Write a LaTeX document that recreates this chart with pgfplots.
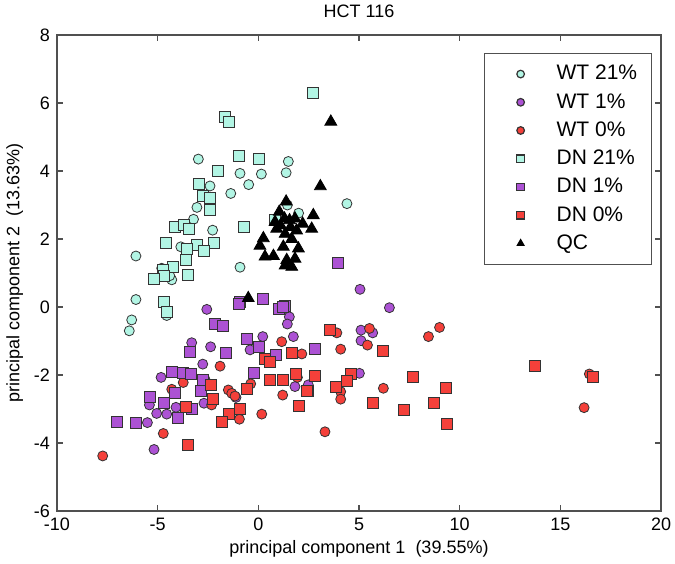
\documentclass[border=0pt]{standalone}
\usepackage{fontspec}
\setmainfont{Liberation Sans}
\usepackage{pgfplots}
\pgfplotsset{compat=1.18}
\usetikzlibrary{calc}
\definecolor{mint}{RGB}{178,245,228}
\definecolor{violet}{RGB}{172,82,212}
\definecolor{tomato}{RGB}{244,64,58}
\definecolor{frame}{RGB}{80,80,80}

\begin{document}
\begin{tikzpicture}
\begin{axis}[
  scale only axis,
  width=302pt, height=238pt,
  xmin=-10, xmax=20, ymin=-6, ymax=8,
  xtick={-10,-5,...,20}, ytick={-6,-4,...,8},
  tick align=inside,
  major tick length=3pt,
  axis line style={draw=frame, line width=0.9pt},
  every tick/.style={draw=frame, line width=0.6pt},
  tick label style={font=\fontsize{9}{10}\selectfont},
  /pgf/number format/assume math mode=true,
  title={HCT 116},
  title style={font=\fontsize{9}{10}\selectfont, yshift=-1pt},
  xlabel={principal component 1~~(39.55\%)},
  ylabel={principal component 2~~(13.63\%)},
  label style={font=\fontsize{9}{10}\selectfont},
  xlabel style={yshift=2pt},
  ylabel style={yshift=-1.5pt},
  legend cell align=left,
  legend style={at={(0.707,0.963)}, anchor=north west,
    draw=frame, line width=0.6pt,
    font=\fontsize{10.5}{12}\selectfont,
    row sep=2.3pt, inner xsep=5.5pt, inner ysep=4.5pt,
    nodes={inner sep=1.5pt}},
  legend image code/.code={
    \path[draw=none, fill=none] (0pt,0pt) (29pt,0pt);
    \path[mark repeat=2, mark phase=2, #1, mark size=1.9pt, draw=none]
      plot coordinates {(0pt,0pt) (12.5pt,0pt) (25pt,0pt)};},
  every axis plot/.append style={only marks, mark options={line width=0.5pt}},
]
% WT 21%
\addplot[mark=*, mark size=2.5pt, mark options={fill=mint, draw=black!80}] coordinates {
(-2.98,4.35) (1.49,4.28) (1.38,3.95) (-0.91,3.93) (0.15,3.91) (-2.40,3.56)
(-0.48,3.60) (-1.37,3.34) (-3.05,2.93) (-3.22,2.58) (-2.27,2.26) (-6.08,1.50)
(-3.85,1.77) (-0.91,1.17) (2.00,2.76) (4.40,3.04) (1.44,3.00) (-6.08,0.22)
(-6.29,-0.38) (-6.41,-0.70) (-4.30,0.80) (-4.80,1.14) (-4.55,-0.25) (-4.40,0.92)
};
\addlegendentry{WT 21\%}
% WT 1%
\addplot[mark=*, mark size=2.5pt, mark options={fill=violet, draw=black!80}] coordinates {
(-2.56,-0.07) (1.54,-0.29) (1.44,-0.50) (1.74,-0.87) (0.22,-0.87) (-0.41,-1.26)
(-3.31,-1.05) (-2.37,-1.17) (-2.76,-1.68) (-4.83,-2.07) (-2.65,-2.13) (-2.80,-2.45)
(-5.41,-2.88) (-5.05,-3.13) (-4.55,-3.15) (-4.09,-2.95) (-2.70,-2.83) (-5.51,-3.40)
(-5.18,-4.19) (-1.11,-2.66) (1.82,-2.34) (2.48,-2.29) (5.05,0.52) (6.51,-0.02)
(5.10,-0.68) (5.68,-0.76) (5.10,-0.99) (5.02,-1.95)
};
\addlegendentry{WT 1\%}
% WT 0%
\addplot[mark=*, mark size=2.5pt, mark options={fill=tomato, draw=black!80}] coordinates {
(3.90,-0.76) (5.52,-0.63) (5.42,-1.12) (4.09,-1.24) (2.16,-1.38) (1.16,-1.02)
(8.45,-0.87) (9.00,-0.60) (1.94,-2.07) (1.21,-2.59) (4.09,-2.49) (4.09,-2.71)
(6.21,-2.39) (3.31,-3.67) (16.44,-1.97) (16.18,-2.96) (-1.90,-1.74) (-3.73,-2.22)
(-1.49,-2.44) (-1.32,-2.54) (-1.16,-2.62) (-2.32,-2.88) (-4.30,-2.42) (-0.94,-3.30)
(0.17,-3.15) (-4.72,-3.72) (-7.73,-4.38) (-0.38,-2.26)
};
\addlegendentry{WT 0\%}
% DN 21%
\addplot[mark=square*, mark size=2.75pt, mark options={fill=mint, draw=black!80}] coordinates {
(-1.65,5.58) (-1.46,5.45) (2.73,6.31) (-0.96,4.45) (0.05,4.36) (-2.02,4.00)
(-2.96,3.62) (-2.76,3.26) (-2.43,3.20) (-2.43,2.85) (-4.14,2.36) (-3.69,2.41)
(-3.44,2.31) (-0.70,2.36) (0.83,2.56) (-4.57,1.89) (-3.06,1.82) (-2.20,1.88)
(-2.70,1.66) (-3.53,1.70) (-3.62,1.39) (-4.24,1.17) (-4.73,1.10) (-4.67,0.91)
(-3.48,0.93) (-5.20,0.82) (-4.68,0.16) (-4.55,-0.14)
};
\addlegendentry{DN 21\%}
% DN 1%
\addplot[mark=square*, mark size=2.75pt, mark options={fill=violet, draw=black!80}] coordinates {
(-0.91,0.16) (-0.98,0.10) (0.22,0.23) (1.04,-0.07) (1.33,0.03) (-2.15,-0.50)
(-1.74,-0.55) (-0.55,-0.95) (0.05,-1.17) (-3.39,-1.31) (-1.62,-1.36) (0.88,-1.41)
(-4.30,-1.90) (-3.76,-1.93) (-3.36,-1.98) (-0.20,-1.93) (-2.73,-2.15) (-2.86,-2.47)
(-5.38,-2.64) (-4.14,-2.54) (-4.68,-2.83) (-3.31,-3.01) (-4.02,-3.27) (-7.03,-3.37)
(-6.08,-3.40) (3.97,1.30) (1.21,0.01) (2.82,-1.24)
};
\addlegendentry{DN 1\%}
% DN 0%
\addplot[mark=square*, mark size=2.75pt, mark options={fill=tomato, draw=black!80}] coordinates {
(3.53,-0.68) (1.66,-1.36) (6.21,-1.29) (1.87,-1.98) (2.82,-2.03) (4.59,-1.98)
(4.39,-2.18) (3.86,-2.34) (2.48,-2.46) (1.21,-2.13) (1.99,-2.91) (5.71,-2.83)
(7.24,-3.03) (7.67,-2.05) (8.74,-2.83) (9.32,-2.39) (9.36,-3.44) (13.75,-1.74)
(16.64,-2.05) (0.33,-1.54) (0.58,-1.61) (0.55,-2.13) (-2.35,-2.29) (-0.58,-2.42)
(-3.59,-2.93) (-2.27,-2.71) (-1.44,-3.13) (-0.91,-3.01) (-1.79,-3.37) (-3.48,-4.06)
(2.40,-2.46)
};
\addlegendentry{DN 0\%}
% QC
\addplot[mark=triangle*, mark size=3.4pt, mark options={fill=black, draw=black}] coordinates {
(3.60,5.45) (3.08,3.55) (1.38,3.10) (1.04,2.80) (2.73,2.70) (1.82,2.60)
(0.83,2.50) (1.30,2.60) (1.55,2.55) (2.65,2.30) (0.91,2.30) (1.90,2.25)
(1.33,2.15) (0.25,2.02) (1.66,2.00) (0.08,1.80) (1.24,1.77) (1.99,1.72)
(0.33,1.48) (0.75,1.50) (1.41,1.38) (1.82,1.42) (1.33,1.22) (1.66,1.18)
(-0.50,0.26) (1.10,2.40) (1.60,2.35) (2.20,2.45)
};
\addlegendentry{QC}
\end{axis}
\pgfresetboundingbox
\path ($(current axis.south west)+(-28.5pt,-26pt)$) rectangle ($(current axis.north east)+(7pt,17.5pt)$);
\end{tikzpicture}
\end{document}
